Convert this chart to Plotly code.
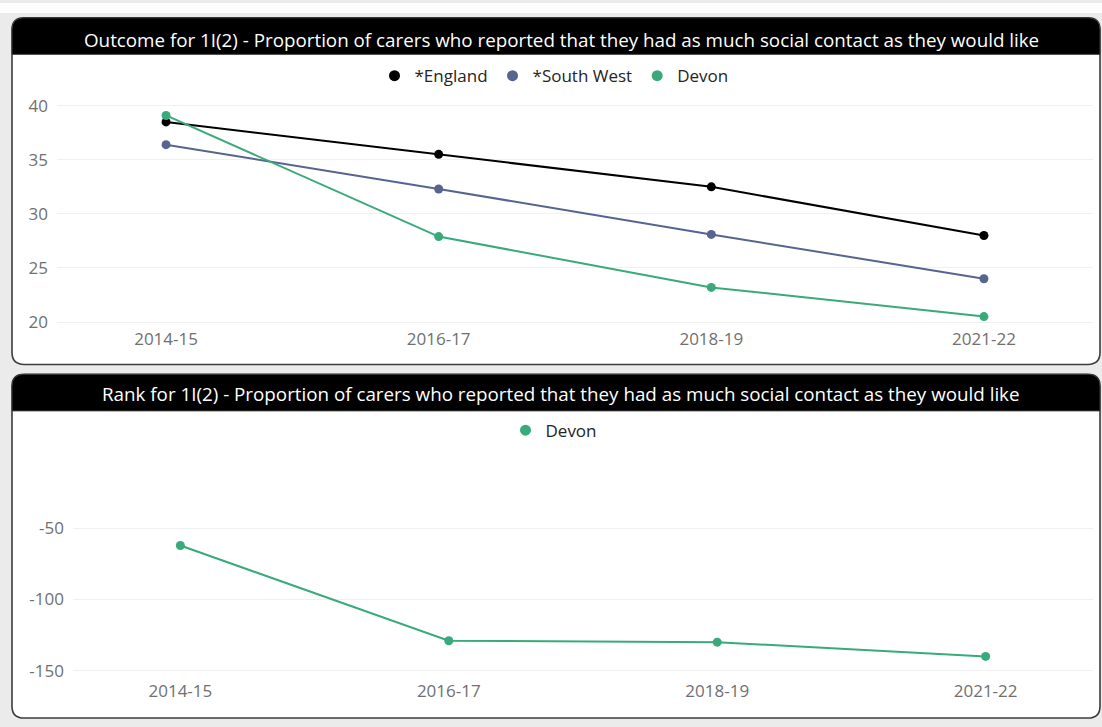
import plotly.graph_objects as go

W, H = 1102, 727

periods = ["2014-15", "2016-17", "2018-19", "2021-22"]
england = [38.5, 35.5, 32.5, 28.0]
south_west = [36.4, 32.3, 28.1, 24.0]
devon = [39.1, 27.9, 23.2, 20.5]
devon_rank = [-62, -129, -130, -140]

top_ticks = [20, 25, 30, 35, 40]
bottom_ticks = [-150, -100, -50]
bottom_ticktext = ["-150", "-100", "-50"]

title_top = "Outcome for 1I(2) - Proportion of carers who reported that they had as much social contact as they would like"
title_bottom = "Rank for 1I(2) - Proportion of carers who reported that they had as much social contact as they would like"

C_ENG = "#000000"
C_SW = "#56648f"
C_DEV = "#39aa7a"
FONT = "Open Sans"
TICK_C = "#707070"


def px(x):
    return x / W


def py(y):
    return 1 - y / H


def yrange(dom_top, dom_bot, v1, p1, v2, p2):
    k = (v1 - v2) / (p2 - p1)  # units per px
    top = v1 + (p1 - dom_top) * k
    bot = v2 - (dom_bot - p2) * k
    return [bot, top]


def rrect(x0, y0, x1, y1, r, top=True, bottom=True):
    rt = r if top else 0
    rb = r if bottom else 0
    pts = [f"M {px(x0 + rt)},{py(y0)}", f"L {px(x1 - rt)},{py(y0)}"]
    if rt:
        pts.append(f"Q {px(x1)},{py(y0)} {px(x1)},{py(y0 + rt)}")
    pts.append(f"L {px(x1)},{py(y1 - rb)}")
    if rb:
        pts.append(f"Q {px(x1)},{py(y1)} {px(x1 - rb)},{py(y1)}")
    pts.append(f"L {px(x0 + rb)},{py(y1)}")
    if rb:
        pts.append(f"Q {px(x0)},{py(y1)} {px(x0)},{py(y1 - rb)}")
    pts.append(f"L {px(x0)},{py(y0 + rt)}")
    if rt:
        pts.append(f"Q {px(x0)},{py(y0)} {px(x0 + rt)},{py(y0)}")
    pts.append("Z")
    return " ".join(pts)


fig = go.Figure()

for name, vals, col in [("*England", england, C_ENG), ("*South West", south_west, C_SW), ("Devon", devon, C_DEV)]:
    fig.add_trace(go.Scatter(x=periods, y=vals, name=name, mode="lines+markers",
                             line=dict(color=col, width=2), marker=dict(color=col, size=9),
                             xaxis="x", yaxis="y", showlegend=False))
    fig.add_trace(go.Scatter(x=[None], y=[None], name=name, mode="markers",
                             marker=dict(color=col, size=11), xaxis="x", yaxis="y",
                             legend="legend", showlegend=True))

fig.add_trace(go.Scatter(x=periods, y=devon_rank, name="Devon", mode="lines+markers",
                         line=dict(color=C_DEV, width=2), marker=dict(color=C_DEV, size=9),
                         xaxis="x2", yaxis="y2", showlegend=False))
fig.add_trace(go.Scatter(x=[None], y=[None], name="Devon", mode="markers",
                         marker=dict(color=C_DEV, size=11), xaxis="x2", yaxis="y2",
                         legend="legend2", showlegend=True))

t_dom = (95, 328)
b_dom = (470, 684)

axis_common = dict(showline=False, zeroline=False, ticks="",
                   tickfont=dict(family=FONT, size=17, color=TICK_C))

shapes = []
shapes.append(dict(type="rect", xref="paper", yref="paper", x0=0, x1=1, y0=py(10), y1=1,
                   fillcolor="white", line=dict(width=0), layer="below"))
for (y0, y1) in [(15, 366), (376, 724)]:
    shapes.append(dict(type="path", xref="paper", yref="paper", path=rrect(12, y0, 1100, y1, 12),
                       fillcolor="white", line=dict(color="#3c3c3c", width=1.6), layer="below"))
    shapes.append(dict(type="path", xref="paper", yref="paper",
                       path=rrect(12, y0, 1100, y0 + 37, 12, top=True, bottom=False),
                       fillcolor="black", line=dict(color="#3c3c3c", width=1), layer="below"))

annotations = [
    dict(text=title_top, xref="paper", yref="paper", x=px(561), y=py(37), showarrow=False,
         xanchor="center", yanchor="middle", font=dict(family=FONT, size=18.8, color="white")),
    dict(text=title_bottom, xref="paper", yref="paper", x=px(561), y=py(396), showarrow=False,
         xanchor="center", yanchor="middle", font=dict(family=FONT, size=18.8, color="white")),
]

fig.update_layout(
    width=W, height=H,
    margin=dict(l=0, r=0, t=0, b=0),
    paper_bgcolor="#ebebeb",
    plot_bgcolor="rgba(0,0,0,0)",
    font=dict(family=FONT),
    xaxis=dict(domain=[px(57), px(1093)], anchor="y", type="category", range=[-0.4, 3.4],
               showgrid=False, **axis_common),
    yaxis=dict(domain=[py(t_dom[1]), py(t_dom[0])], anchor="x",
               range=yrange(t_dom[0], t_dom[1], 40, 104, 20, 323),
               tickvals=top_ticks, showgrid=True, gridcolor="#f0f0f0", gridwidth=1,
               ticklabelstandoff=8, **axis_common),
    xaxis2=dict(domain=[px(73), px(1093)], anchor="y2", type="category", range=[-0.4, 3.4],
                showgrid=False, **axis_common),
    yaxis2=dict(domain=[py(b_dom[1]), py(b_dom[0])], anchor="x2",
                range=yrange(b_dom[0], b_dom[1], -50, 532, -150, 676),
                tickvals=bottom_ticks, ticktext=bottom_ticktext,
                showgrid=True, gridcolor="#f0f0f0", gridwidth=1,
                ticklabelstandoff=8, **axis_common),
    legend=dict(orientation="h", x=px(554), y=py(74), xanchor="center", yanchor="middle",
                bgcolor="rgba(0,0,0,0)", font=dict(family=FONT, size=17, color="#252423"),
                itemwidth=30, tracegroupgap=0),
    legend2=dict(orientation="h", x=px(554), y=py(433), xanchor="center", yanchor="middle",
                 bgcolor="rgba(0,0,0,0)", font=dict(family=FONT, size=17, color="#252423"),
                 itemwidth=30),
    shapes=shapes,
    annotations=annotations,
    showlegend=True,
)

fig.write_html("out.html")
